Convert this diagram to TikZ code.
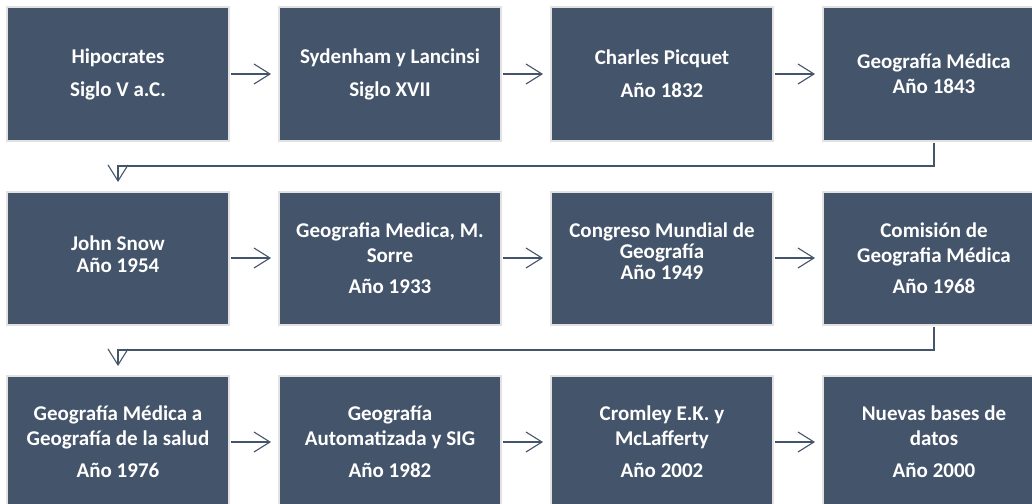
\documentclass[tikz,border=0pt]{standalone}
\usepackage{fontspec}
\setmainfont{Carlito}
\usetikzlibrary{arrows.meta}
\definecolor{boxfill}{HTML}{44546A}
\definecolor{boxedge}{HTML}{E2E2E2}
\begin{document}
\begin{tikzpicture}[x=1pt,y=-1pt,
  caption/.style={text=white, align=center, inner sep=0pt,
    font=\bfseries\fontsize{21}{25}\selectfont},
  stage/.style={caption, draw=boxedge, line width=2pt, fill=boxfill,
    minimum width=222pt, minimum height=133pt},
  link/.style={draw=boxfill, line width=1.1pt,
    -{Straight Barb[length=16pt,width=20pt]}, shorten >=7pt, shorten <=1pt}
]
\useasboundingbox (0,0) rectangle (1032,503);

% first row
\node[stage] (a1) at (118,74)  {Hipocrates\\[8pt]Siglo V a.C.};
\node[stage] (a2) at (390,74)  {Sydenham y Lancinsi\\[8pt]Siglo XVII};
\node[stage] (a3) at (662,74)  {Charles Picquet\\[8pt]Año 1832};
\node[stage] (a4) at (934,74)  {Geografía Médica\\Año 1843};

% second row
\node[stage] (b1) at (118,258) {};
\node[caption] (b1t) at (118,254) {John Snow\\[-3pt]Año 1954};
\node[stage] (b2) at (390,258) {Geografia Medica, M.\\Sorre\\[6pt]Año 1933};
\node[stage] (b3) at (662,258) {};
\node[caption] (b3t) at (662,251) {Congreso Mundial de\\[-4pt]Geografía\\[-4pt]Año 1949};
\node[stage] (b4) at (934,258) {Comisión de\\Geografia Médica\\[6pt]Año 1968};

% third row
\node[stage] (c1) at (118,442) {Geografía Médica a\\Geografía de la salud\\[7pt]Año 1976};
\node[stage] (c2) at (390,442) {Geografía\\Automatizada y SIG\\[7pt]Año 1982};
\node[stage] (c3) at (662,442) {Cromley E.K. y\\McLafferty\\[7pt]Año 2002};
\node[stage] (c4) at (934,442) {Nuevas bases de\\datos\\[7pt]Año 2000};

% connectors along each row
\foreach \r in {a,b,c}{
  \draw[link] (\r1.east) -- (\r2.west);
  \draw[link] (\r2.east) -- (\r3.west);
  \draw[link] (\r3.east) -- (\r4.west);
}

% connectors wrapping to the next row
\coordinate (w1) at (934,166);
\coordinate (w2) at (934,350);
\draw[link, shorten >=8.5pt] (a4.south) -- (w1) -| (b1.north);
\draw[link, shorten >=8.5pt] (b4.south) -- (w2) -| (c1.north);
\end{tikzpicture}
\end{document}
